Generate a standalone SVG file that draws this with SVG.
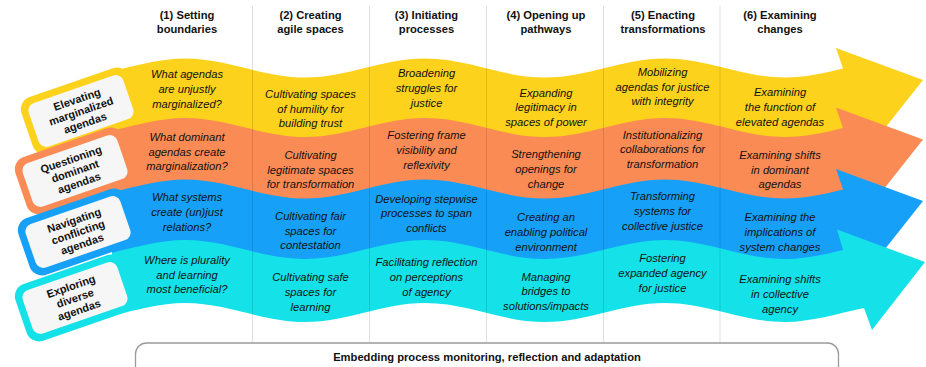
<svg xmlns="http://www.w3.org/2000/svg" width="926" height="367" viewBox="0 0 926 367">
  <style>
    .hd { font-family: "Liberation Sans", Arial, sans-serif; font-size: 11.2px; font-weight: bold; fill: #111; text-anchor: middle; }
    .it { font-family: "Liberation Sans", Arial, sans-serif; font-size: 11.2px; font-style: italic; fill: #111; text-anchor: middle; }
    .lb { font-family: "Liberation Sans", Arial, sans-serif; font-size: 11px; font-weight: bold; fill: #111; text-anchor: middle; }
    .box { fill: #f6f6f6; }
    .grid { stroke: #000; stroke-opacity: 0.12; stroke-width: 1; }
    .yel { fill: #fdd21c; }
    .ora { fill: #fb8b55; }
    .blu { fill: #17a0f8; }
    .cya { fill: #14e2e8; }
  </style>

  <rect width="926" height="367" fill="#ffffff"/>

  <!-- wavy streams with their arrowheads; lower streams overlap upper ones -->
  <g id="connectors">
    <g id="stream-elevating">
      <path class="yel" d="M112,71.17 C136.3,65.5 160.7,58.5 185,58.5 C228.6,58.5 261.4,77.5 305,77.5 S381.4,58.5 425,58.5 S501.4,77.5 545,77.5 S621.4,58.5 665,58.5 S741.4,77.5 785,77.5 C804.3,77.5 823.7,73.3 843,68.5 L836,48 L923,80 L870,147 L863.8,129 C837.8,134.7 811,143 785,143 C741.4,143 708.6,124 665,124 S588.6,143 545,143 S468.6,124 425,124 S348.6,143 305,143 S228.6,124 185,124 C160.7,124 136.3,131 112,136.7 Z"/>
    </g>
  </g>

  <g id="node-elevating" transform="translate(81,111) rotate(-19)">
    <rect class="yel" x="-57" y="-30" width="114" height="60" rx="13"/>
    <rect class="box" x="-50" y="-23" width="100" height="46" rx="8"/>
    <text class="lb" x="0" y="-8.5">Elevating</text>
    <text class="lb" x="0" y="4">marginalized</text>
    <text class="lb" x="0" y="16.5">agendas</text>
  </g>

  <g id="stream-questioning">
    <path class="ora" d="M112,130.67 C136.3,125 160.7,118 185,118 C228.6,118 261.4,137 305,137 S381.4,118 425,118 S501.4,137 545,137 S621.4,118 665,118 S741.4,137 785,137 C804.3,137 823.7,132.8 843,128 L836,107.5 L923,139.5 L870,206.5 L864.5,190.5 C838.5,196.2 811,204.5 785,204.5 C741.4,204.5 708.6,185.5 665,185.5 S588.6,204.5 545,204.5 S468.6,185.5 425,185.5 S348.6,204.5 305,204.5 S228.6,185.5 185,185.5 C160.7,185.5 136.3,192.5 112,198.17 Z"/>
  </g>
  <g id="node-questioning" transform="translate(75,171) rotate(-19)">
    <rect class="ora" x="-57" y="-30" width="114" height="60" rx="13"/>
    <rect class="box" x="-50" y="-23" width="100" height="46" rx="8"/>
    <text class="lb" x="0" y="-8.5">Questioning</text>
    <text class="lb" x="0" y="4">dominant</text>
    <text class="lb" x="0" y="16.5">agendas</text>
  </g>

  <g id="stream-navigating">
    <path class="blu" d="M112,192.17 C136.3,186.5 160.7,179.5 185,179.5 C228.6,179.5 261.4,198.5 305,198.5 S381.4,179.5 425,179.5 S501.4,198.5 545,198.5 S621.4,179.5 665,179.5 S741.4,198.5 785,198.5 C804.3,198.5 823.7,194.3 843,189.5 L836,169 L923,201 L870,268 L864.3,251 C838.3,256.7 811,265 785,265 C741.4,265 708.6,246 665,246 S588.6,265 545,265 S468.6,246 425,246 S348.6,265 305,265 S228.6,246 185,246 C160.7,246 136.3,253 112,258.67 Z"/>
  </g>
  <g id="node-navigating" transform="translate(78,232) rotate(-19)">
    <rect class="blu" x="-57" y="-30" width="114" height="60" rx="13"/>
    <rect class="box" x="-50" y="-23" width="100" height="46" rx="8"/>
    <text class="lb" x="0" y="-8.5">Navigating</text>
    <text class="lb" x="0" y="4">conflicting</text>
    <text class="lb" x="0" y="16.5">agendas</text>
  </g>

  <g id="stream-exploring">
    <path class="cya" d="M112,252.67 C136.3,247 160.7,240 185,240 C228.6,240 261.4,259 305,259 S381.4,240 425,240 S501.4,259 545,259 S621.4,240 665,240 S741.4,259 785,259 C804.3,259 823.7,254.8 843,250 L837,229.5 L925,262 L872,330 L864,308 C837,313.7 811,322 785,322 C741.4,322 708.6,303 665,303 S588.6,322 545,322 S468.6,303 425,303 S348.6,322 305,322 S228.6,303 185,303 C160.7,303 136.3,310 112,315.67 Z"/>
  </g>
  <g id="node-exploring" transform="translate(75,298) rotate(-19)">
    <rect class="cya" x="-57" y="-30" width="114" height="60" rx="13"/>
    <rect class="box" x="-50" y="-23" width="100" height="46" rx="8"/>
    <text class="lb" x="0" y="-8.5">Exploring</text>
    <text class="lb" x="0" y="4">diverse</text>
    <text class="lb" x="0" y="16.5">agendas</text>
  </g>

  <!-- column separators -->
  <g id="grid">
    <line class="grid" x1="252.5" y1="6" x2="252.5" y2="343"/>
    <line class="grid" x1="369.5" y1="6" x2="369.5" y2="343"/>
    <line class="grid" x1="486.5" y1="6" x2="486.5" y2="343"/>
    <line class="grid" x1="603.5" y1="6" x2="603.5" y2="343"/>
    <line class="grid" x1="720" y1="6" x2="720" y2="343"/>
  </g>

  <!-- stage headings -->
  <g id="headings">
    <text class="hd" x="187" y="19">(1) Setting</text>
    <text class="hd" x="187" y="33">boundaries</text>
    <text class="hd" x="310.5" y="19">(2) Creating</text>
    <text class="hd" x="310.5" y="33">agile spaces</text>
    <text class="hd" x="426.5" y="19">(3) Initiating</text>
    <text class="hd" x="426.5" y="33">processes</text>
    <text class="hd" x="546" y="19">(4) Opening up</text>
    <text class="hd" x="546" y="33">pathways</text>
    <text class="hd" x="663" y="19">(5) Enacting</text>
    <text class="hd" x="663" y="33">transformations</text>
    <text class="hd" x="780" y="19">(6) Examining</text>
    <text class="hd" x="780" y="33">changes</text>
  </g>

  <!-- stage 1 -->
  <g id="cells-1">
    <text class="it" x="187" y="78">What agendas</text>
    <text class="it" x="187" y="93">are unjustly</text>
    <text class="it" x="187" y="108">marginalized?</text>
    <text class="it" x="187" y="141">What dominant</text>
    <text class="it" x="187" y="156">agendas create</text>
    <text class="it" x="187" y="170">marginalization?</text>
    <text class="it" x="187" y="201">What systems</text>
    <text class="it" x="187" y="216">create (un)just</text>
    <text class="it" x="187" y="231">relations?</text>
    <text class="it" x="187" y="264">Where is plurality</text>
    <text class="it" x="187" y="279">and learning</text>
    <text class="it" x="187" y="293">most beneficial?</text>
  </g>

  <!-- stage 2 -->
  <g id="cells-2">
    <text class="it" x="310.5" y="98">Cultivating spaces</text>
    <text class="it" x="310.5" y="113">of humility for</text>
    <text class="it" x="310.5" y="127">building trust</text>
    <text class="it" x="310.5" y="159">Cultivating</text>
    <text class="it" x="310.5" y="174">legitimate spaces</text>
    <text class="it" x="310.5" y="188">for transformation</text>
    <text class="it" x="310.5" y="220">Cultivating fair</text>
    <text class="it" x="310.5" y="235">spaces for</text>
    <text class="it" x="310.5" y="249">contestation</text>
    <text class="it" x="310.5" y="281">Cultivating safe</text>
    <text class="it" x="310.5" y="296">spaces for</text>
    <text class="it" x="310.5" y="311">learning</text>
  </g>

  <!-- stage 3 -->
  <g id="cells-3">
    <text class="it" x="426.5" y="77">Broadening</text>
    <text class="it" x="426.5" y="92">struggles for</text>
    <text class="it" x="426.5" y="107">justice</text>
    <text class="it" x="426.5" y="139">Fostering frame</text>
    <text class="it" x="426.5" y="154">visibility and</text>
    <text class="it" x="426.5" y="169">reflexivity</text>
    <text class="it" x="426.5" y="203">Developing stepwise</text>
    <text class="it" x="426.5" y="217">processes to span</text>
    <text class="it" x="426.5" y="232">conflicts</text>
    <text class="it" x="426.5" y="266">Facilitating reflection</text>
    <text class="it" x="426.5" y="281">on perceptions</text>
    <text class="it" x="426.5" y="296">of agency</text>
  </g>

  <!-- stage 4 -->
  <g id="cells-4">
    <text class="it" x="546" y="97">Expanding</text>
    <text class="it" x="546" y="111">legitimacy in</text>
    <text class="it" x="546" y="126">spaces of power</text>
    <text class="it" x="546" y="158">Strengthening</text>
    <text class="it" x="546" y="173">openings for</text>
    <text class="it" x="546" y="188">change</text>
    <text class="it" x="546" y="221">Creating an</text>
    <text class="it" x="546" y="236">enabling political</text>
    <text class="it" x="546" y="251">environment</text>
    <text class="it" x="546" y="281">Managing</text>
    <text class="it" x="546" y="295">bridges to</text>
    <text class="it" x="546" y="310">solutions/impacts</text>
  </g>

  <!-- stage 5 -->
  <g id="cells-5">
    <text class="it" x="662.5" y="76">Mobilizing</text>
    <text class="it" x="662.5" y="91">agendas for justice</text>
    <text class="it" x="662.5" y="105">with integrity</text>
    <text class="it" x="662.5" y="139">Institutionalizing</text>
    <text class="it" x="662.5" y="153">collaborations for</text>
    <text class="it" x="662.5" y="168">transformation</text>
    <text class="it" x="662.5" y="200">Transforming</text>
    <text class="it" x="662.5" y="215">systems for</text>
    <text class="it" x="662.5" y="230">collective justice</text>
    <text class="it" x="662.5" y="262">Fostering</text>
    <text class="it" x="662.5" y="277">expanded agency</text>
    <text class="it" x="662.5" y="292">for justice</text>
  </g>

  <!-- stage 6 -->
  <g id="cells-6">
    <text class="it" x="780" y="96">Examining</text>
    <text class="it" x="780" y="111">the function of</text>
    <text class="it" x="780" y="126">elevated agendas</text>
    <text class="it" x="780" y="159">Examining shifts</text>
    <text class="it" x="780" y="174">in dominant</text>
    <text class="it" x="780" y="188">agendas</text>
    <text class="it" x="780" y="221">Examining the</text>
    <text class="it" x="780" y="236">implications of</text>
    <text class="it" x="780" y="251">system changes</text>
    <text class="it" x="780" y="283">Examining shifts</text>
    <text class="it" x="780" y="298">in collective</text>
    <text class="it" x="780" y="313">agency</text>
  </g>

  <!-- cross-cutting process bar -->
  <g id="node-embedding">
    <rect x="135.5" y="343" width="703" height="44" rx="11" fill="#ffffff" stroke="#9a9a9a" stroke-width="1.3"/>
    <text class="hd" x="487" y="361">Embedding process monitoring, reflection and adaptation</text>
  </g>
</svg>
